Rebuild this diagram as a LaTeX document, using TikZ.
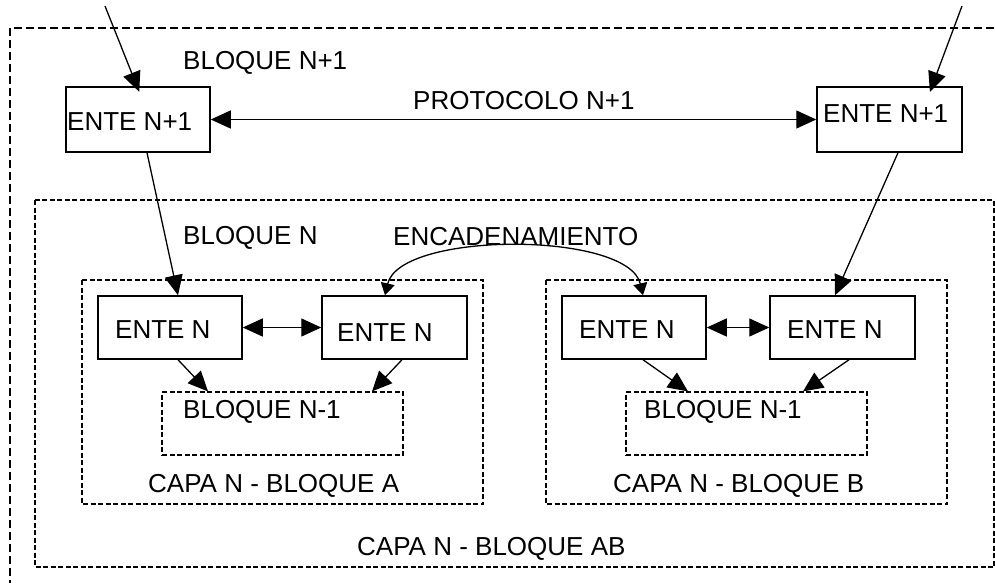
\documentclass[tikz,border=0pt]{standalone}
\usepackage{fontspec}
\setmainfont{Liberation Sans}
\usetikzlibrary{arrows.meta}
\begin{document}
\begin{tikzpicture}[x=1pt,y=-1pt,
  font=\fontsize{26}{30}\selectfont,
  ebox/.style={draw, line width=1.5pt, inner sep=0pt, rectangle},
  txt/.style={inner sep=0pt, anchor=base west},
  outerd/.style={draw, line width=1.4pt, dash pattern=on 8pt off 4pt},
  innerd/.style={draw, line width=1.2pt, dash pattern=on 5pt off 2.5pt},
  arr/.style={line width=1.3pt, -{Triangle[length=20pt,width=18pt]}},
  darr/.style={line width=1.3pt, {Triangle[length=20pt,width=18pt]}-{Triangle[length=20pt,width=18pt]}},
  carr/.style={line width=1.3pt, {Triangle[length=12pt,width=14pt]}-{Triangle[length=12pt,width=14pt]}}
]
\useasboundingbox (0,0) rectangle (995,583);
\clip (0,0) rectangle (995,583);
\fill[white] (0,0) rectangle (995,583);

% dashed frames
\draw[outerd] (10,600) -- (10,28) -- (1010,28);
\draw[innerd] (35,200) rectangle (994,567);
\draw[innerd] (82,280) rectangle (483,504);
\draw[innerd] (546,280) rectangle (947,504);
\node[innerd, inner sep=0pt, minimum width=241pt, minimum height=63pt] (BA) at (282.5,423.5) {};
\node[innerd, inner sep=0pt, minimum width=241pt, minimum height=63pt] (BB) at (746.5,423.5) {};

% entity boxes
\node[ebox, minimum width=144pt, minimum height=65pt] (L) at (138,119.5) {};
\node[ebox, minimum width=145pt, minimum height=65pt] (R) at (889.5,119.5) {};
\node[ebox, minimum width=144pt, minimum height=63pt] (A1) at (170,327.5) {};
\node[ebox, minimum width=145pt, minimum height=63pt] (A2) at (394.5,327.5) {};
\node[ebox, minimum width=144pt, minimum height=63pt] (B1) at (634,327.5) {};
\node[ebox, minimum width=145pt, minimum height=63pt] (B2) at (842.5,327.5) {};

% texts
\node[txt] (tBN1) at (183,70) {BLOQUE N+1};
\node[txt] (tProt) at (413,110) {PROTOCOLO N+1};
\node[txt] (tL) at (67,130) {ENTE N+1};
\node[txt] (tR) at (823,123) {ENTE N+1};
\node[txt] (tBN) at (183,244) {BLOQUE N};
\node[txt] (tEnc) at (393,245) {ENCADENAMIENTO};
\node[txt] (tA1) at (115,338) {ENTE N};
\node[txt] (tA2) at (337,341) {ENTE N};
\node[txt] (tB1) at (579,338) {ENTE N};
\node[txt] (tB2) at (787,338) {ENTE N};
\node[txt] (tBA) at (183,418) {BLOQUE N-1};
\node[txt] (tBB) at (644,418) {BLOQUE N-1};
\node[txt] (tCA) at (148,492) {CAPA N - BLOQUE A};
\node[txt] (tCB) at (613,492) {CAPA N - BLOQUE B};
\node[txt] (tCAB) at (357,555) {CAPA N - BLOQUE AB};

% incoming
\coordinate (inL) at (105,6);
\coordinate (inR) at (962,6);
\draw[arr, shorten >=-6pt] (inL) -- ([xshift=-1pt]L.north);
\draw[arr, shorten >=-6pt] (inR) -- ([xshift=42.5pt]R.north);

% protocol
\draw[darr] (L.east) -- (R.west);

% down to layer N
\draw[arr] ([xshift=9pt]L.south) -- ([xshift=8pt]A1.north);
\draw[arr] ([xshift=8.5pt]R.south) -- ([xshift=-7.5pt]B2.north);

% horizontal
\draw[darr] (A1.east) -- (A2.west);
\draw[darr] (B1.east) -- (B2.west);

% to bloque N-1
\draw[arr] ([xshift=8pt]A1.south) -- ([xshift=-74.5pt]BA.north);
\draw[arr] ([xshift=7.5pt]A2.south) -- ([xshift=89.5pt]BA.north);
\draw[arr] ([xshift=9pt]B1.south) -- ([xshift=-58.5pt]BB.north);
\draw[arr] ([xshift=6.5pt]B2.south) -- ([xshift=56.5pt]BB.north);

% encadenamiento
\draw[carr] ([xshift=-9.5pt]A2.north) .. controls (400,231) and (628,231) .. ([xshift=9pt]B1.north);
\end{tikzpicture}
\end{document}
